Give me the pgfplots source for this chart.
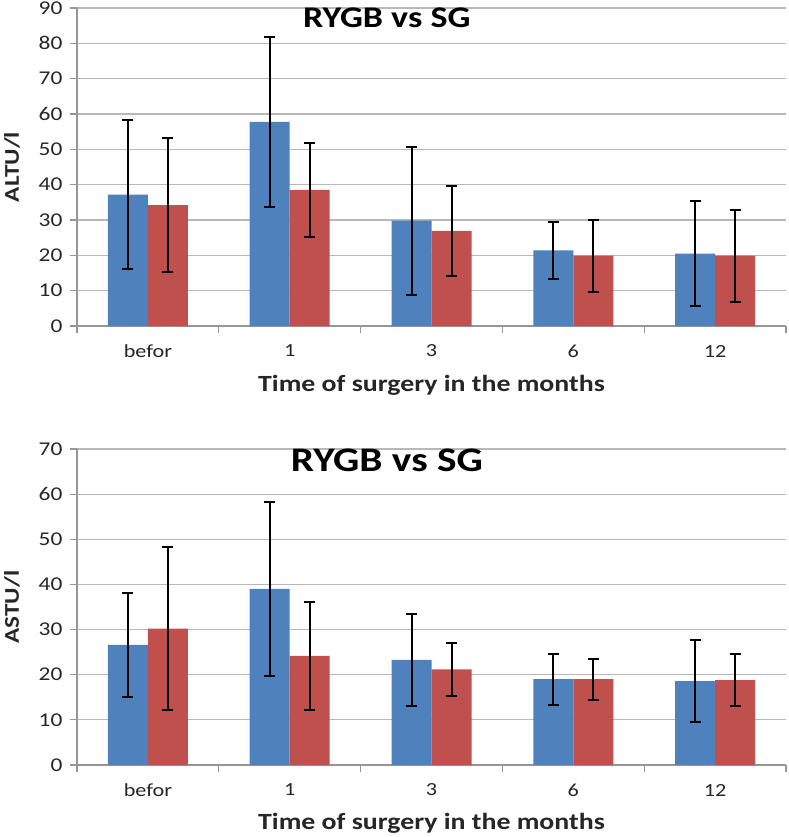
\documentclass[border=0pt]{standalone}
\usepackage{fontspec}
\setmainfont{Carlito}[FakeStretch=1.2]
\usepackage{pgfplots}
\pgfplotsset{compat=1.18}
\definecolor{cblue}{HTML}{4F81BD}
\definecolor{cred}{HTML}{C0504D}
\definecolor{gridc}{HTML}{B8B8B8}
\definecolor{axc}{HTML}{969696}
\definecolor{txt}{HTML}{262626}
\pgfplotsset{
 panel/.style={
  scale only axis, width=709pt,
  xmin=-0.5, xmax=4.5, ymin=0,
  ybar=0pt, bar width=40pt,
  axis x line*=bottom, axis y line*=left,
  axis line style={draw=axc, line width=1.2pt, -},
  ymajorgrids, grid style={draw=gridc, line width=1.2pt},
  tick align=outside, major tick length=7pt,
  tick style={draw=axc, line width=1.2pt},
  xtick={-0.5,0.5,1.5,2.5,3.5,4.5}, xticklabels={},
  extra x ticks={0,1,2,3,4},
  extra x tick labels={befor,1,3,6,12},
  extra x tick style={major tick length=0pt, grid=none},
  xticklabel style={font=\fontsize{18.5}{18.5}\selectfont, text=txt, anchor=center, yshift=-25pt},
  yticklabel style={font=\fontsize{19.5}{19.5}\selectfont, text=txt, xshift=-4pt},
  /pgf/number format/assume math mode=true,
  xlabel={Time of surgery in the months},
  xlabel style={font=\bfseries\fontsize{23.2}{23.2}\selectfont, text=txt, at={(axis description cs:0.5,-0.186)}, anchor=center},
  ylabel style={font=\bfseries\fontsize{21}{21}\selectfont, text=txt, at={(axis description cs:-0.0917,0.5)}, anchor=center},
  title={RYGB vs SG},
 },
 errs/.style={error bars/.cd, y dir=both, y explicit,
  error bar style={black, line width=2pt},
  error mark options={black, line width=2pt, mark size=5.5pt, rotate=90}},
}
\begin{document}
\begin{tikzpicture}
\useasboundingbox (0,0) rectangle (788pt,-837pt);
\begin{axis}[panel, at={(77pt,-326pt)}, anchor=south west, height=318pt,
  ymax=90, ytick={0,10,...,90}, ylabel={ALTU/l},
  title style={font=\bfseries\fontsize{30}{30}\selectfont, text=black, at={(axis description cs:0.437,0.95)}, anchor=center}]
\addplot[fill=cblue, draw=none, errs] coordinates {
 (0,37.2) +- (0,21.2)
 (1,57.8) +- (0,24.1)
 (2,29.8) +- (0,21.0)
 (3,21.4) +- (0,8.1)
 (4,20.5) +- (0,14.9)
};
\addplot[fill=cred, draw=none, errs] coordinates {
 (0,34.2) +- (0,19.0)
 (1,38.5) +- (0,13.4)
 (2,26.9) +- (0,12.8)
 (3,19.9) +- (0,10.2)
 (4,19.9) +- (0,13.0)
};
\end{axis}
\begin{axis}[panel, at={(77pt,-765pt)}, anchor=south west, height=316pt,
  ymax=70, ytick={0,10,...,70}, ylabel={ASTU/l},
  title style={font=\bfseries\fontsize{34.4}{34.4}\selectfont, text=black, at={(axis description cs:0.437,0.946)}, anchor=center}]
\addplot[fill=cblue, draw=none, errs] coordinates {
 (0,26.6) +- (0,11.6)
 (1,39.0) +- (0,19.3)
 (2,23.3) +- (0,10.2)
 (3,19.0) +- (0,5.7)
 (4,18.6) +- (0,9.1)
};
\addplot[fill=cred, draw=none, errs] coordinates {
 (0,30.2) +- (0,18.0)
 (1,24.2) +- (0,12.0)
 (2,21.2) +- (0,5.9)
 (3,19.0) +- (0,4.5)
 (4,18.8) +- (0,5.8)
};
\end{axis}
\end{tikzpicture}
\end{document}
